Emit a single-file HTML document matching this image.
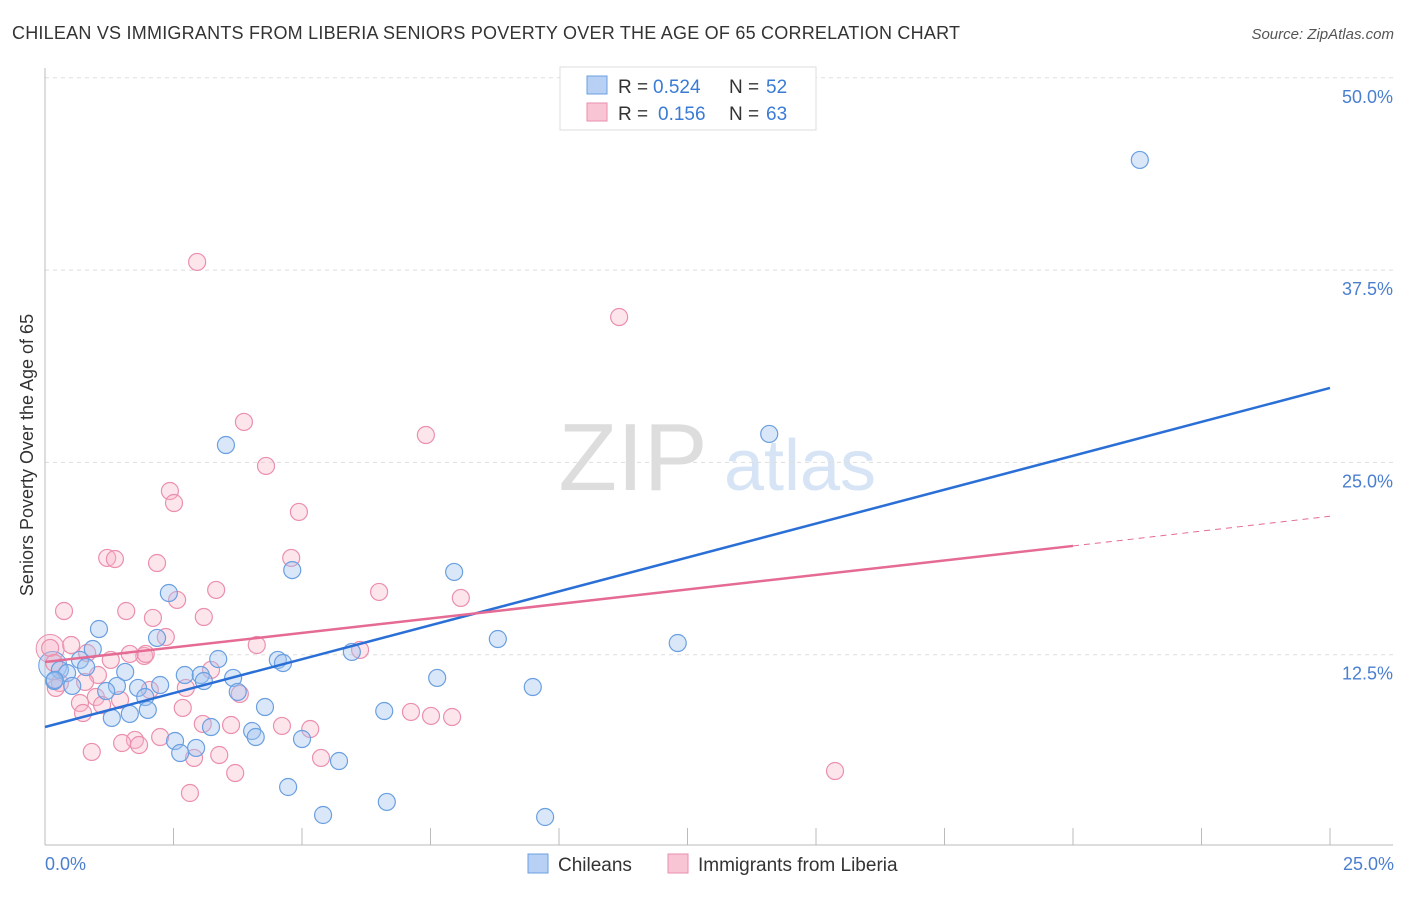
<!DOCTYPE html>
<html><head><meta charset="utf-8"><style>
body{margin:0;background:#fff;font-family:"Liberation Sans",sans-serif}
svg text{font-family:"Liberation Sans",sans-serif}
</style></head><body>
<svg width="1406" height="892">
<text x="12" y="39" font-size="18" fill="#333" textLength="948">CHILEAN VS IMMIGRANTS FROM LIBERIA SENIORS POVERTY OVER THE AGE OF 65 CORRELATION CHART</text>
<text x="1394" y="39" font-size="15" fill="#555" font-style="italic" text-anchor="end">Source: ZipAtlas.com</text>
<text x="633" y="490" font-size="96" fill="#ddd" font-family="Liberation Serif" text-anchor="middle">ZIP</text>
<text x="800" y="490" font-size="72" fill="#d6e4f5" text-anchor="middle">atlas</text>
<g id="grid"></g>
<g id="axes"></g>
<g id="points"></g>
<g id="lines"></g>
<text x="33" y="455" font-size="18" fill="#333" text-anchor="middle" transform="rotate(-90 33 455)">Seniors Poverty Over the Age of 65</text>
<text x="45" y="870" font-size="18" fill="#4a7fd0">0.0%</text>
<text x="1394" y="870" font-size="18" fill="#4a7fd0" text-anchor="end">25.0%</text>
<g>
<rect x="560" y="67" width="256" height="63" fill="#fff" stroke="#ddd"/>
<rect x="587" y="76" width="20" height="18" fill="#b7d0f3" stroke="#6a9fe0"/>
<text x="618" y="93" font-size="19" fill="#333">R =</text>
<text x="653" y="93" font-size="19" fill="#3a7bd5">0.524</text>
<text x="729" y="93" font-size="19" fill="#333">N =</text>
<text x="766" y="93" font-size="19" fill="#3a7bd5">52</text>
<rect x="587" y="103" width="20" height="18" fill="#f8c5d5" stroke="#eb8fae"/>
<text x="618" y="120" font-size="19" fill="#333">R =</text>
<text x="658" y="120" font-size="19" fill="#3a7bd5">0.156</text>
<text x="729" y="120" font-size="19" fill="#333">N =</text>
<text x="766" y="120" font-size="19" fill="#3a7bd5">63</text>
</g>
<g>
<rect x="528" y="854" width="20" height="19" fill="#b7d0f3" stroke="#6a9fe0"/>
<text x="558" y="871" font-size="19" fill="#333">Chileans</text>
<rect x="668" y="854" width="20" height="19" fill="#f8c5d5" stroke="#eb8fae"/>
<text x="698" y="871" font-size="19" fill="#333">Immigrants from Liberia</text>
</g>
</svg>
<script>
const yTicks=[12.5,25,37.5,50];
const yTickLabels=["12.5%","25.0%","37.5%","50.0%"];
const xTicks=[0,2.5,5,7.5,10,12.5,15,17.5,20,22.5,25];
const blueX=[21.30,3.52,14.09,4.81,7.96,2.41,1.05,2.18,8.81,12.31,0.93,5.97,3.37,4.53,4.63,0.68,0.80,2.72,3.03,1.56,0.29,0.43,7.63,3.66,0.18,0.53,9.49,1.40,2.24,1.19,1.81,3.09,3.75,1.95,4.28,2.00,6.60,1.65,1.30,4.03,3.23,4.10,5.00,2.53,2.94,2.63,5.72,4.73,6.65,5.41,9.73,0.19];
const blueY=[44.66,26.13,26.85,18.0,17.88,16.51,14.17,13.59,13.52,13.26,12.87,12.68,12.22,12.16,11.96,12.16,11.70,11.18,11.18,11.38,11.51,11.31,10.99,10.99,10.79,10.47,10.40,10.47,10.53,10.14,10.34,10.79,10.08,9.75,9.10,8.91,8.84,8.65,8.39,7.54,7.80,7.15,7.02,6.89,6.44,6.11,5.59,3.90,2.93,2.08,1.95,10.86];
const pinkX=[2.96,11.17,3.87,7.41,4.30,2.43,2.51,4.94,1.21,1.36,4.79,2.18,6.50,8.09,3.33,2.57,0.37,1.58,3.09,2.10,2.35,0.10,0.51,4.12,6.13,1.93,1.28,1.65,1.96,0.82,0.18,3.23,1.03,0.29,0.78,2.74,2.04,0.21,3.79,0.99,1.46,0.68,1.11,2.68,7.12,7.51,7.92,0.74,4.61,5.16,3.07,3.62,2.24,1.75,1.50,1.83,0.91,2.90,3.39,5.37,15.37,3.70,2.82];
const pinkY=[38.03,34.45,27.63,26.78,24.77,23.14,22.36,21.78,18.79,18.72,18.79,18.46,16.58,16.19,16.71,16.06,15.34,15.34,14.95,14.89,13.65,12.94,13.13,13.13,12.81,12.42,12.16,12.55,12.55,12.61,11.96,11.51,11.18,10.66,10.73,10.34,10.21,10.34,9.95,9.75,9.56,9.36,9.23,9.04,8.78,8.52,8.45,8.71,7.87,7.67,8.00,7.93,7.15,6.96,6.76,6.63,6.18,5.79,5.98,5.79,4.94,4.81,3.51];
const blueTrend=[7.8,29.84];
const pinkTrend=[12.03,19.57,21.5];
const NS='http://www.w3.org/2000/svg';
const X=v=>45+v/25*1285, Y=v=>847-v/12.5*192.3;
function mk(p,tag,at){const e=document.createElementNS(NS,tag);for(const k in at)e.setAttribute(k,at[k]);p.appendChild(e);return e;}
const grid=document.getElementById('grid'),axes=document.getElementById('axes'),pts=document.getElementById('points'),lines=document.getElementById('lines');
yTicks.forEach((t,i)=>{
 const l=mk(grid,'line',{x1:45,x2:1393,y1:Y(t),y2:Y(t),stroke:'#ddd','stroke-dasharray':'4 4'});
 
 
 const tx=mk(grid,'text',{x:1393,y:Y(t)+25,'font-size':18,fill:'#4a7fd0','text-anchor':'end'});
 tx.textContent=yTickLabels[i];
 
 
});
const ax=mk(axes,'line',{x1:45,x2:45,y1:68,y2:845,stroke:'#bbb'});


const bx=mk(axes,'line',{x1:45,x2:1393,y1:845,y2:845,stroke:'#bbb'});


xTicks.forEach(t=>{
 const k=mk(axes,'line',{x1:X(t),x2:X(t),y1:828,y2:845,stroke:'#bbb'});
 
 
});
const bg1=mk(pts,'circle',{cx:X(0.1),cy:Y(12.9),r:14,fill:'rgba(248,180,200,0.35)',stroke:'#eb8fae'});


const bg2=mk(pts,'circle',{cx:X(0.15),cy:Y(11.8),r:14,fill:'rgba(160,196,240,0.4)',stroke:'#6a9fe0'});


pinkX.forEach((x,i)=>{
 const c=mk(pts,'circle',{cx:X(x),cy:Y(pinkY[i]),r:8.5,fill:'rgba(248,180,200,0.35)',stroke:'#eb8fae','stroke-width':1.2});
 
 
});
blueX.forEach((x,i)=>{
 const c=mk(pts,'circle',{cx:X(x),cy:Y(blueY[i]),r:8.5,fill:'rgba(160,196,240,0.4)',stroke:'#6a9fe0','stroke-width':1.2});
 
 
});
const bl=mk(lines,'line',{x1:X(0),y1:Y(blueTrend[0]),x2:X(25),y2:Y(blueTrend[1]),stroke:'#2a6fd6','stroke-width':2.5});


const pl=mk(lines,'line',{x1:X(0),y1:Y(pinkTrend[0]),x2:X(20),y2:Y(pinkTrend[1]),stroke:'#e56a94','stroke-width':2.5});


const pd=mk(lines,'line',{x1:X(20),y1:Y(pinkTrend[1]),x2:X(25),y2:Y(pinkTrend[2]),stroke:'#e56a94','stroke-width':1,'stroke-dasharray':'6 5'});


</script>
</body></html>
